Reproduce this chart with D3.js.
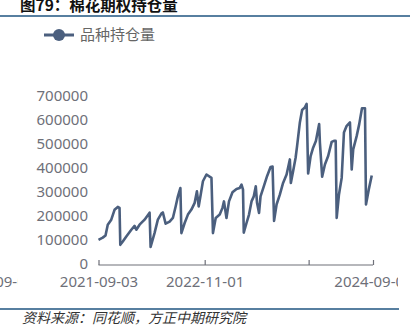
<!DOCTYPE html>
<html>
<head>
<meta charset="utf-8">
<script src="https://cdn.jsdelivr.net/npm/d3@7/dist/d3.min.js"></script>
<style>
  html, body { margin: 0; padding: 0; background: #fff; }
  svg { display: block; }
</style>
</head>
<body>
<svg id="chart" width="410" height="335"></svg>
<script>
// 棉花期权持仓量（手）
const dates = [
  "2021-09-03","2021-09-20","2021-10-01","2021-10-10","2021-10-24","2021-11-06","2021-11-19","2021-11-26","2021-11-29",
  "2021-12-09","2021-12-23","2022-01-12","2022-01-25","2022-02-01","2022-02-14","2022-03-06","2022-03-26","2022-03-30",
  "2022-04-15","2022-04-28","2022-05-12","2022-05-18","2022-05-29","2022-06-14","2022-06-27","2022-07-08","2022-07-17",
  "2022-07-27","2022-07-31","2022-08-13","2022-08-26","2022-09-09","2022-09-22","2022-10-01","2022-10-08","2022-10-16",
  "2022-10-25","2022-11-08","2022-11-28","2022-12-04","2022-12-15","2022-12-31","2023-01-11","2023-01-17","2023-01-27",
  "2023-02-06","2023-02-20","2023-03-08","2023-03-21","2023-03-28","2023-04-03","2023-04-06","2023-04-17","2023-04-27",
  "2023-05-07","2023-05-16","2023-05-24","2023-05-29","2023-06-06","2023-06-12","2023-06-25","2023-07-08","2023-07-22",
  "2023-07-30","2023-08-05","2023-08-15","2023-08-28","2023-09-10","2023-09-24","2023-10-07","2023-10-11","2023-10-20",
  "2023-10-30","2023-11-05","2023-11-16","2023-11-25","2023-12-06","2023-12-13","2023-12-19","2023-12-29","2024-01-08",
  "2024-01-19","2024-02-01","2024-02-04","2024-02-13","2024-02-24","2024-03-08","2024-03-22","2024-03-31","2024-04-07",
  "2024-04-11","2024-04-20","2024-05-01","2024-05-10","2024-05-21","2024-06-03","2024-06-10","2024-06-16","2024-06-30",
  "2024-07-10","2024-07-21","2024-08-02","2024-08-06","2024-08-17","2024-08-29"
];
const openInterest = [
  105000,114000,123000,168000,189000,230000,242000,238000,84000,
  98000,119000,147000,163000,147000,168000,189000,218000,75000,
  134000,189000,214000,219000,172000,181000,196000,244000,286000,
  321000,133000,175000,210000,231000,259000,307000,244000,293000,
  349000,377000,363000,133000,196000,210000,238000,265000,196000,
  265000,303000,317000,321000,335000,314000,135000,175000,210000,
  265000,286000,328000,259000,217000,286000,328000,370000,408000,
  410000,184000,252000,293000,342000,377000,440000,342000,391000,
  447000,496000,594000,646000,657000,671000,381000,454000,489000,
  517000,587000,510000,368000,419000,454000,513000,517000,517000,
  196000,293000,363000,552000,580000,594000,398000,482000,538000,
  587000,653000,653000,252000,314000,373000
];
const yTicks = [0,100000,200000,300000,400000,500000,600000,700000];
const xTickDates = ["2021-09-03","2022-11-01","2023-12-21","2024-09-03"];
const xTickLabels = ["2021-09-03","2022-11-01","","2024-09-03"];
const leftEdgeLabel = "2020-09-03";
const seriesName = "品种持仓量";
const titleText = "图79：棉花期权持仓量";
const sourceText = "资料来源：同花顺，方正中期研究院";

const parse = d3.timeParse("%Y-%m-%d");
const data = dates.map((d, i) => ({ date: parse(d), value: openInterest[i] }));

const svg = d3.select("#chart");
const lineColor = "#4b5f7e";
const axisColor = "#6e7079";
const ruleColor = "#1f5580";
const fontFamily = "'Noto Sans', 'Noto Sans CJK SC', sans-serif";

const x = d3.scaleTime()
  .domain([parse("2021-09-03"), parse("2024-09-03")])
  .range([98.5, 373]);
const y = d3.scaleLinear().domain([0, 700000]).range([265, 97]);

// header
svg.append("text")
  .attr("x", 20).attr("y", 11)
  .attr("font-family", "'Noto Sans CJK SC', sans-serif")
  .attr("font-size", 15.5).attr("font-weight", "bold")
  .attr("fill", "#111")
  .text(titleText);
svg.append("line")
  .attr("x1", 0).attr("x2", 410).attr("y1", 16).attr("y2", 16)
  .attr("stroke", ruleColor).attr("stroke-width", 1.5);

// legend
const lg = svg.append("g").attr("transform", "translate(44,35)");
lg.append("line").attr("x1", 0).attr("x2", 30).attr("y1", 0).attr("y2", 0)
  .attr("stroke", lineColor).attr("stroke-width", 3);
lg.append("circle").attr("cx", 15).attr("cy", 0).attr("r", 6).attr("fill", lineColor);
lg.append("text").attr("x", 36).attr("y", 0).attr("dy", "0.35em")
  .attr("font-family", fontFamily).attr("font-size", 15)
  .attr("fill", "#666").text(seriesName);

// y axis labels (no axis line)
const yAxis = d3.axisLeft(y).tickValues(yTicks).tickSize(0).tickPadding(0)
  .tickFormat(d3.format("d"));
const gy = svg.append("g").attr("transform", "translate(88,0)").call(yAxis);
gy.select(".domain").remove();
gy.selectAll("text")
  .attr("font-family", fontFamily).attr("font-size", 15)
  .attr("fill", axisColor).attr("dy", "0.2em");

// x axis; labels past the plot's right edge are cut off
svg.append("clipPath").attr("id", "clipX")
  .append("rect").attr("x", 0).attr("y", -20).attr("width", 398).attr("height", 60);

const xAxis = d3.axisBottom(x)
  .tickValues(xTickDates.map(parse))
  .tickSize(5).tickPadding(3)
  .tickFormat((d, i) => xTickLabels[i]);
const gxWrap = svg.append("g").attr("transform", "translate(0,265)");
const gx = gxWrap.append("g").attr("clip-path", "url(#clipX)").call(xAxis);
gx.select(".domain").attr("stroke", axisColor).attr("stroke-width", 1.2)
  .attr("d", "M98.5,0H373");
gx.selectAll(".tick line").attr("stroke", axisColor).attr("stroke-width", 1.2)
  .attr("y2", -5);
gx.selectAll("text")
  .attr("font-family", fontFamily).attr("font-size", 15)
  .attr("fill", axisColor).attr("dy", "0.95em");

// earlier label, cut off at the left edge
svg.append("clipPath").attr("id", "clipLeft")
  .append("rect").attr("x", 0).attr("y", -20).attr("width", 17.5).attr("height", 60);
gxWrap.append("g").attr("clip-path", "url(#clipLeft)")
  .append("text")
  .attr("x", -44).attr("y", 8).attr("dy", "0.95em")
  .attr("text-anchor", "start")
  .attr("font-family", fontFamily).attr("font-size", 15)
  .attr("fill", axisColor)
  .text(leftEdgeLabel);

// series line
const line = d3.line().x(d => x(d.date)).y(d => y(d.value));
svg.append("path").datum(data)
  .attr("d", line)
  .attr("fill", "none").attr("stroke", lineColor)
  .attr("stroke-width", 2.6).attr("stroke-linejoin", "round");

// footer
svg.append("line")
  .attr("x1", 0).attr("x2", 399).attr("y1", 309).attr("y2", 309)
  .attr("stroke", ruleColor).attr("stroke-width", 1.5);
svg.append("text")
  .attr("x", 22).attr("y", 323)
  .attr("font-family", "'Noto Sans CJK SC', sans-serif")
  .attr("font-size", 14).attr("font-style", "italic")
  .attr("fill", "#333")
  .text(sourceText);
</script>
</body>
</html>
